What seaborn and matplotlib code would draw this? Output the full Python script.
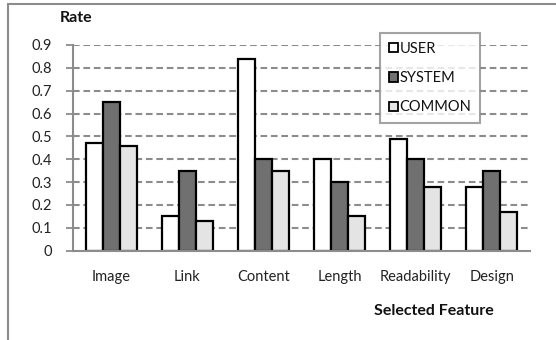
import matplotlib
matplotlib.use("Agg")
import matplotlib.pyplot as plt
from matplotlib.lines import Line2D
import seaborn as sns
import pandas as pd

features = ["Image", "Link", "Content", "Length", "Readability", "Design"]
series = ["USER", "SYSTEM", "COMMON"]
user = [0.47, 0.15, 0.84, 0.40, 0.49, 0.28]
system = [0.65, 0.35, 0.40, 0.30, 0.40, 0.35]
common = [0.46, 0.13, 0.35, 0.15, 0.28, 0.17]
yticks = [0, 0.1, 0.2, 0.3, 0.4, 0.5, 0.6, 0.7, 0.8, 0.9]
ytick_labels = ["0", "0.1", "0.2", "0.3", "0.4", "0.5", "0.6", "0.7", "0.8", "0.9"]

df = pd.DataFrame({
    "feature": features * 3,
    "rate": user + system + common,
    "series": [s for s in series for _ in features],
})

sns.set_theme(style="white")
plt.rcParams["font.family"] = ["Lato", "DejaVu Sans"]

fig = plt.figure(figsize=(5.56, 3.40), dpi=100)
ax = fig.add_axes([73 / 556, 1 - 250.7 / 340, 457 / 556, (250.7 - 45) / 340])

palette = {"USER": "#ffffff", "SYSTEM": "#707070", "COMMON": "#e4e4e4"}
sns.barplot(data=df, x="feature", y="rate", hue="series", palette=palette,
            edgecolor="black", linewidth=1.6, width=0.67, ax=ax,
            saturation=1, legend=False, zorder=3)

ax.set_ylim(0, 0.9)
ax.set_xlim(-0.5, 5.5)
ax.set_yticks(yticks)
ax.set_yticklabels(ytick_labels, fontsize=10.5, color="#222222")
ax.tick_params(axis="y", which="both", left=True, length=5, width=1.3,
               color="#8c8c8c", pad=10)
ax.tick_params(axis="x", length=0, pad=14, labelsize=10.5, labelcolor="#222222")
for v in yticks[1:]:
    ax.axhline(v, color="#8c8c8c", lw=1.5, ls=(0, (3.2, 1.8)), zorder=1)

for s in ["top", "right"]:
    ax.spines[s].set_visible(False)
ax.spines["left"].set_color("#8c8c8c")
ax.spines["left"].set_linewidth(1.5)
ax.spines["bottom"].set_color("#8c8c8c")
ax.spines["bottom"].set_linewidth(1.5)
ax.spines["bottom"].set_zorder(4)
ax.set_xlabel("")
ax.set_ylabel("")

fig.text(60 / 556, 1 - 18 / 340, "Rate", fontsize=11.5, fontweight="bold",
         va="center", ha="left", color="#111111")
fig.text(434 / 556, 1 - 311 / 340, "Selected Feature", fontsize=11.5,
         fontweight="bold", va="center", ha="center", color="#111111")

handles = [plt.Rectangle((0, 0), 1, 1, facecolor=palette[s], edgecolor="black",
                         linewidth=1.3) for s in series]
leg = ax.legend(handles, series, loc="upper left",
                bbox_to_anchor=(380 / 556, 1 - 33 / 340),
                bbox_transform=fig.transFigure, frameon=True, fancybox=False,
                handlelength=0.6, handleheight=0.6, handletextpad=0.15,
                labelspacing=1.05, borderpad=0.6, borderaxespad=0,
                fontsize=10.5)
leg.get_frame().set_edgecolor("#8c8c8c")
leg.get_frame().set_linewidth(1.5)
leg.set_zorder(5)
for t in leg.get_texts():
    t.set_color("#111111")

# outer border (top and left edges)
fig.add_artist(Line2D([8 / 556, 1], [1 - 4 / 340, 1 - 4 / 340],
                      transform=fig.transFigure, color="#8c8c8c", lw=1.5))
fig.add_artist(Line2D([8 / 556, 8 / 556], [0, 1 - 4 / 340],
                      transform=fig.transFigure, color="#8c8c8c", lw=1.5))

fig.savefig("out.png", dpi=100)
